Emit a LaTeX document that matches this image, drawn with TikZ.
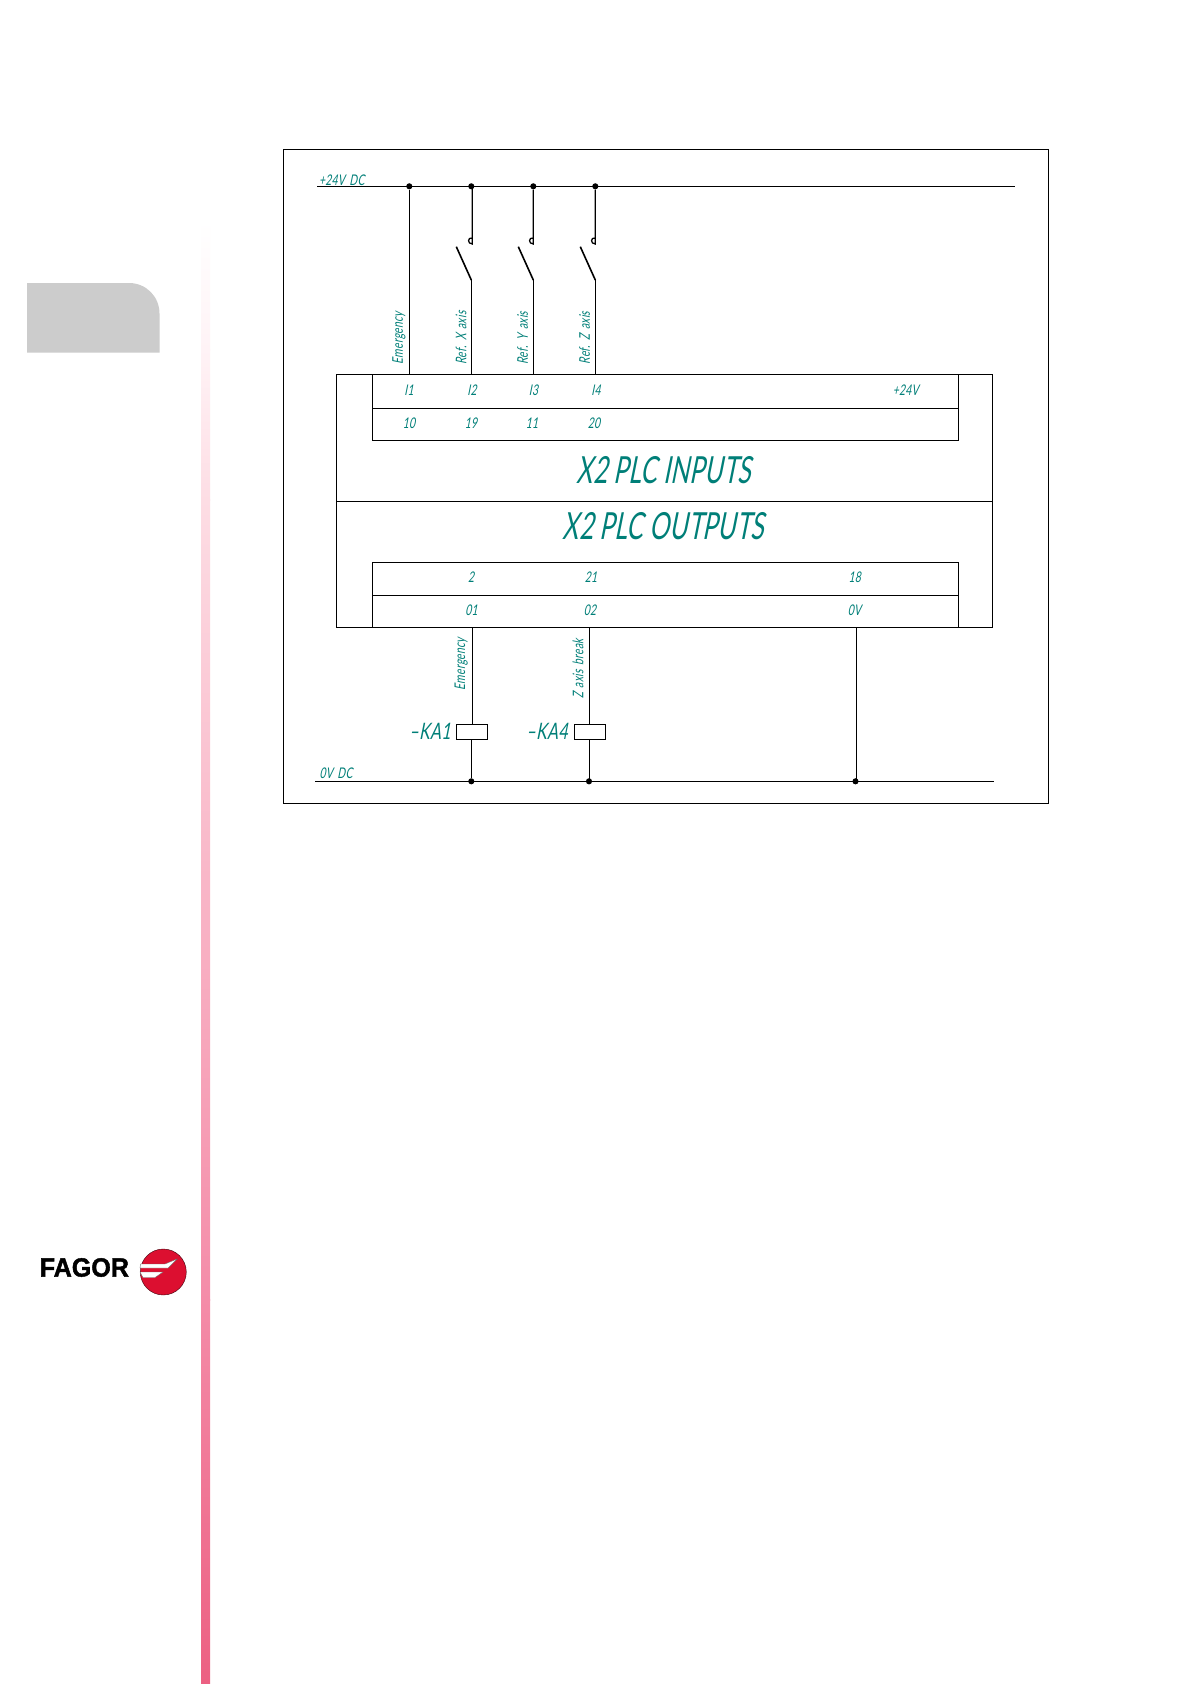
\documentclass[tikz,border=0pt]{standalone}
\usepackage{fontspec}
\setmainfont{Liberation Sans}
\newfontfamily\isofont[FakeSlant=0.2,FakeStretch=0.70,LetterSpace=2,WordSpace=1.6]{Lato}
\newfontfamily\isobig[FakeSlant=0.2,FakeStretch=0.66,LetterSpace=0.5]{Lato}
\newfontfamily\logofont[FakeBold=1.6,FakeStretch=0.95]{Liberation Sans Bold}
\definecolor{isoteal}{HTML}{007F78}
\definecolor{fagred}{HTML}{DC0F30}
\definecolor{bandA}{HTML}{FFF3F6}
\definecolor{bandB}{HTML}{FDDDE4}
\definecolor{bandC}{HTML}{F48CA8}
\definecolor{bandD}{HTML}{EC6082}
\tikzset{
  wire/.style={draw=black,line width=0.95pt},
  junction/.style={circle,fill=black,inner sep=0pt,minimum size=4.6pt},
  lab/.style={text=isoteal,font=\isofont\fontsize{11}{12}\selectfont,inner sep=0pt},
  biglab/.style={text=isoteal,font=\isobig\fontsize{28}{32}\selectfont,inner sep=0pt},
  midlab/.style={text=isoteal,font=\isofont\fontsize{17}{20}\selectfont,inner sep=0pt},
  coil/.style={draw=black,line width=0.95pt,fill=white,minimum width=23.5pt,minimum height=11.2pt,inner sep=0pt},
  stripe/.style={fill=white,draw=black!60,line width=0.25pt}
}
\begin{document}
\begin{tikzpicture}[x=0.75pt,y=-0.75pt]
\useasboundingbox (0,0) rectangle (1190,1684);
% page furniture
\fill[white] (0,0) rectangle (1190,1684);
\fill[black!20] (27,352.5) -- (27,283) -- (129,283) .. controls (146,283) and (159.5,296.5) .. (159.5,313.5) -- (159.5,352.5) -- cycle;
\shade[top color=white,bottom color=bandA] (201,220) rectangle (210,350);
\shade[top color=bandA,bottom color=bandB] (201,349.5) rectangle (210,500);
\shade[top color=bandB,bottom color=bandC] (201,499.5) rectangle (210,1300);
\shade[top color=bandC,bottom color=bandD] (201,1299.5) rectangle (210,1684);
% logo
\node[anchor=west,inner sep=0pt,font=\logofont\fontsize{19.8}{22}\selectfont,text=black] (logotext) at (39.5,1267.5) {FAGOR};
\node[circle,fill=fagred,draw=black!70!fagred,line width=0.3pt,minimum size=34.5pt,inner sep=0pt] (logodisc) at (163.3,1272) {};
\draw[stripe] (140.5,1264) -- (165,1264) -- (177,1259) -- (168,1268) -- (140,1268) -- cycle;
\draw[stripe] (140,1272) -- (163,1272) -- (155,1277.5) -- (143,1277.5) -- cycle;
% coordinates
\coordinate (bus24l) at (317,186.3);
\coordinate (bus24r) at (1015,186.3);
\coordinate (bus0l) at (315,781.3);
\coordinate (bus0r) at (994,781.3);
\node[junction] (j1) at (409.3,186.3) {};
\node[junction] (j2) at (471.3,186.3) {};
\node[junction] (j3) at (533.3,186.3) {};
\node[junction] (j4) at (595.3,186.3) {};
\node[junction] (j5) at (471.3,781.3) {};
\node[junction] (j6) at (589,781.3) {};
\node[junction] (j7) at (855.5,781.3) {};
\coordinate (t1) at (409.3,374.3);
\coordinate (t2) at (471.3,374.3);
\coordinate (t3) at (533.3,374.3);
\coordinate (t4) at (595.3,374.3);
\coordinate (o1) at (472.3,627.3);
\coordinate (o2) at (589.3,627.3);
\coordinate (o3) at (856.3,627.3);
% frames
\draw[wire] (283.3,149.3) rectangle (1048.3,803.3);
\draw[wire] (336.7,374.3) rectangle (992.3,627.3);
\draw[wire] (336.7,501.3) -- (992.3,501.3);
\draw[wire] (372.3,374.3) rectangle (958.7,440.3);
\draw[wire] (372.3,408.3) -- (958.7,408.3);
\draw[wire] (372.3,562.3) rectangle (958.7,627.3);
\draw[wire] (372.3,595.3) -- (958.7,595.3);
% buses
\draw[wire] (bus24l) -- (bus24r);
\draw[wire] (bus0l) -- (bus0r);
% emergency wire
\draw[wire] (j1) -- (t1);
% switches
\coordinate (s2a) at (472.3,244); \coordinate (s2b) at (471.3,280); \coordinate (s2c) at (456.3,246.7);
\coordinate (s3a) at (533.3,244); \coordinate (s3b) at (533.3,280); \coordinate (s3c) at (518.3,246.7);
\coordinate (s4a) at (595.3,244); \coordinate (s4b) at (595.3,280); \coordinate (s4c) at (580.3,246.7);
\draw[wire] (j2 -| s2a) -- (s2a) .. controls ++(-5,0) and ++(-5,-1) .. (472.3,238);
\draw[wire] (j3) -- (s3a) .. controls ++(-5,0) and ++(-5,-1) .. (533.3,238);
\draw[wire] (j4) -- (s4a) .. controls ++(-5,0) and ++(-5,-1) .. (595.3,238);
\draw[wire,line width=1.2pt] (s2c) -- (s2b);
\draw[wire,line width=1.2pt] (s3c) -- (s3b);
\draw[wire,line width=1.2pt] (s4c) -- (s4b);
\draw[wire] (s2b) -- (t2);
\draw[wire] (s3b) -- (t3);
\draw[wire] (s4b) -- (t4);
% coils
\node[coil] (ka1) at (472,731.8) {};
\node[coil] (ka4) at (590,731.8) {};
\draw[wire] (o1) -- (o1 |- ka1.north);
\draw[wire] (o2) -- (o2 |- ka4.north);
\draw[wire] (j5 |- ka1.south) -- (j5);
\draw[wire] (o2 |- ka4.south) -- (o2 |- j6);
\draw[wire] (o3) -- (o3 |- j7);
% labels
\node[lab] (l24dc) at (341.7,180) {+24V DC};
\node[lab] (l0dc) at (336,773) {0V DC};
\node[lab,rotate=90] (le1) at (399,338) {Emergency};
\node[lab,rotate=90] (lrx) at (461,338) {Ref. X axis};
\node[lab,rotate=90] (lry) at (522.7,338) {Ref. Y axis};
\node[lab,rotate=90] (lrz) at (584.7,338) {Ref. Z axis};
\node[lab] (i1) at (409,390) {I1};
\node[lab] (i2) at (472,390) {I2};
\node[lab] (i3) at (533.5,390) {I3};
\node[lab] (i4) at (596,390) {I4};
\node[lab] (p24) at (905.7,390) {+24V};
\node[lab] (n10) at (409,423.3) {10};
\node[lab] (n19) at (471,423.3) {19};
\node[lab] (n11) at (532,423.3) {11};
\node[lab] (n20) at (594,423.3) {20};
\node[biglab] (xin) at (664,470) {X2 PLC INPUTS};
\node[biglab] (xout) at (663.5,526) {X2 PLC OUTPUTS};
\node[lab] (n2) at (471,577) {2};
\node[lab] (n21) at (591,577) {21};
\node[lab] (n18) at (854.7,577) {18};
\node[lab] (q1) at (471.5,610) {01};
\node[lab] (q2) at (590,610) {02};
\node[lab] (q0) at (854.5,610) {0V};
\node[lab,rotate=90] (le2) at (461.3,664) {Emergency};
\node[lab,rotate=90] (lzb) at (578,669) {Z axis break};
\node[midlab] (tka1) at (430,731.7) {–KA1};
\node[midlab] (tka4) at (547,731) {–KA4};
\end{tikzpicture}
\end{document}
